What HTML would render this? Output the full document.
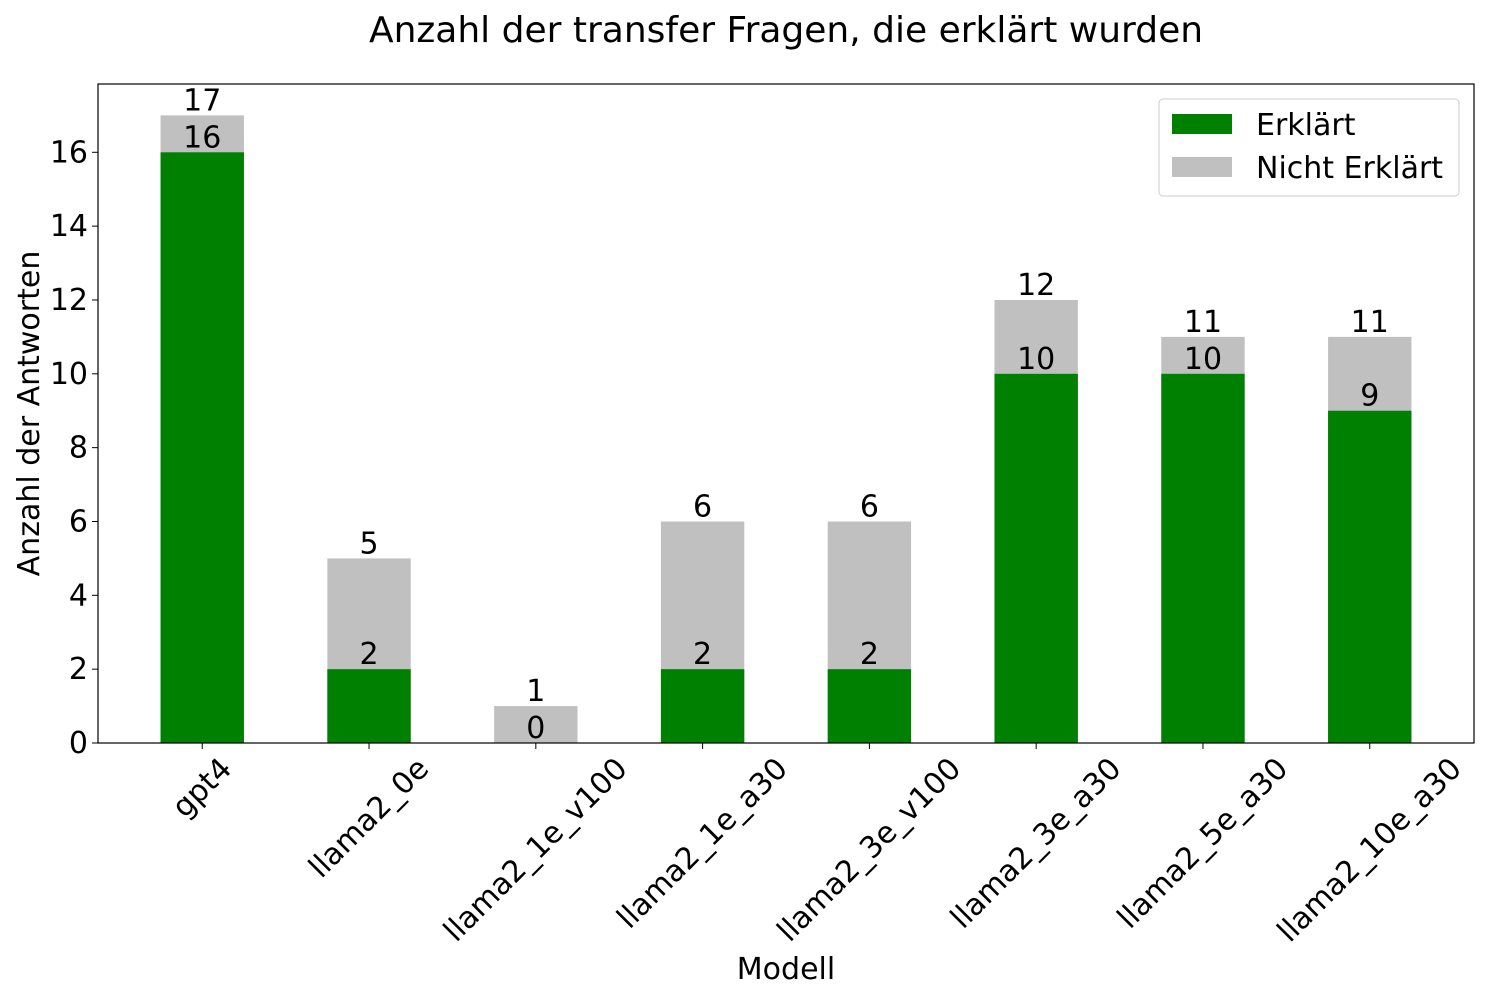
<!DOCTYPE html>
<html><head><meta charset="utf-8"><style>
body{margin:0;background:#fff}
svg{display:block;font-family:"DejaVu Sans","Liberation Sans",sans-serif}
</style></head><body>
<svg id="c" width="1500" height="1000"></svg>
<script>
const categories=["gpt4","llama2_0e","llama2_1e_v100","llama2_1e_a30","llama2_3e_v100","llama2_3e_a30","llama2_5e_a30","llama2_10e_a30"];
const explained=[16,2,0,2,2,10,10,9];
const totals=[17,5,1,6,6,12,11,11];
const yTicks=[0,2,4,6,8,10,12,14,16];
const NS="http://www.w3.org/2000/svg";
const svg=document.getElementById('c');
const L=98,R=1474,T=84,B=743;
const yMax=17.85;
const FS=30;
const y=v=>B-(v/yMax)*(B-T);
const xmin=-0.625,xmax=categories.length-1+0.625;
const x=i=>L+(i-xmin)/(xmax-xmin)*(R-L);
const bw=0.5*(R-L)/(xmax-xmin);
function el(t,a,p){const e=document.createElementNS(NS,t);for(const k in a)e.setAttribute(k,a[k]);(p||svg).appendChild(e);return e;}
function txt(s,a){const e=el('text',a);e.textContent=s;return e;}
let t=txt("Anzahl der transfer Fragen, die erklärt wurden",{x:786,y:42,'font-size':36,'text-anchor':'middle'});


categories.forEach((c,i)=>{
  const g=el('rect',{x:x(i)-bw/2,y:y(totals[i]),width:bw,height:y(0)-y(totals[i]),fill:'#c0c0c0'});
  
  
  const r=el('rect',{x:x(i)-bw/2,y:y(explained[i]),width:bw,height:y(0)-y(explained[i]),fill:'#008000'});
  
  
  const a=txt(String(totals[i]),{x:x(i),y:y(totals[i])-5,'font-size':FS,'text-anchor':'middle'});
  
  
  const b=txt(String(explained[i]),{x:x(i),y:y(explained[i])-5,'font-size':FS,'text-anchor':'middle'});
  
  
  const tk=el('line',{x1:x(i),x2:x(i),y1:B,y2:B+6,stroke:'#000','stroke-width':1});
  
  
  const lb=txt(c,{'font-size':FS,'text-anchor':'middle','dominant-baseline':'central'});
  
  
  const len=lb.getComputedTextLength(),h=FS;
  const half=(len+h)*0.7071/2;
  const cx=x(i),cy=B+10+half;
  lb.setAttribute('transform',`translate(${cx},${cy}) rotate(-45)`);
});
yTicks.forEach(v=>{
  const tk=el('line',{x1:L-6,x2:L,y1:y(v),y2:y(v),stroke:'#000','stroke-width':1});
  
  
  const lb=txt(String(v),{x:L-10,y:y(v)+10,'font-size':FS,'text-anchor':'end'});
  
  
});
const fr=el('rect',{x:L,y:T,width:R-L,height:B-T,fill:'none',stroke:'#000','stroke-width':1.2});


const yl=txt("Anzahl der Antworten",{'font-size':FS,'text-anchor':'middle',transform:`translate(39,${(T+B)/2}) rotate(-90)`});


const xl=txt("Modell",{x:786,y:979,'font-size':FS,'text-anchor':'middle'});


const lg=el('g',{});


el('rect',{x:1159,y:99,width:300,height:97,rx:4,fill:'#fff',stroke:'#ccc','stroke-width':1},lg);
const s1=el('rect',{x:1172,y:114,width:60,height:20,fill:'#008000'},lg);


const s2=el('rect',{x:1172,y:157,width:60,height:20,fill:'#c0c0c0'},lg);


const l1=txt("Erklärt",{x:1256,y:135,'font-size':FS},lg);


const l2=txt("Nicht Erklärt",{x:1256,y:178,'font-size':FS},lg);


</script>
</body></html>
